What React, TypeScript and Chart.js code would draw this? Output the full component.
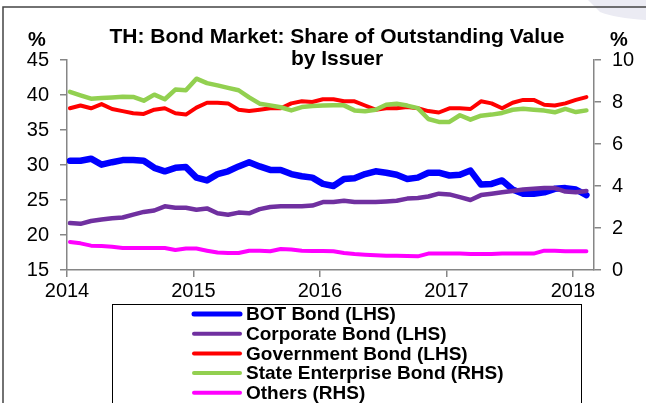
import React, { useEffect, useRef } from "react";
import { Chart, registerables } from "chart.js";

Chart.register(...registerables);

const months = [
  "2014-01", "2014-02", "2014-03", "2014-04", "2014-05", "2014-06", "2014-07", "2014-08", "2014-09", "2014-10", "2014-11", "2014-12",
  "2015-01", "2015-02", "2015-03", "2015-04", "2015-05", "2015-06", "2015-07", "2015-08", "2015-09", "2015-10", "2015-11", "2015-12",
  "2016-01", "2016-02", "2016-03", "2016-04", "2016-05", "2016-06", "2016-07", "2016-08", "2016-09", "2016-10", "2016-11", "2016-12",
  "2017-01", "2017-02", "2017-03", "2017-04", "2017-05", "2017-06", "2017-07", "2017-08", "2017-09", "2017-10", "2017-11", "2017-12",
  "2018-01", "2018-02",
];

const botBond = [
  30.6, 30.6, 30.9, 30.05, 30.4, 30.7, 30.7, 30.6, 29.6, 29.1,
  29.6, 29.7, 28.2, 27.8, 28.7, 29.1, 29.8, 30.4, 29.8, 29.3,
  29.3, 28.7, 28.4, 28.2, 27.3, 27.0, 28.0, 28.1, 28.7, 29.1,
  28.9, 28.6, 28.0, 28.2, 28.9, 28.9, 28.5, 28.6, 29.2, 27.2,
  27.3, 27.8, 26.5, 25.9, 25.9, 26.1, 26.6, 26.7, 26.5, 25.7,
];

const corporateBond = [
  21.7, 21.6, 22.0, 22.2, 22.4, 22.5, 22.9, 23.3, 23.5, 24.1,
  23.9, 23.9, 23.6, 23.8, 23.1, 22.9, 23.2, 23.1, 23.7, 24.0,
  24.1, 24.1, 24.1, 24.2, 24.7, 24.7, 24.9, 24.7, 24.7, 24.7,
  24.8, 24.9, 25.2, 25.3, 25.5, 25.9, 25.8, 25.4, 25.0, 25.7,
  25.9, 26.1, 26.3, 26.5, 26.6, 26.7, 26.7, 26.2, 26.1, 26.3,
];

const governmentBond = [
  38.1, 38.5, 38.1, 38.7, 38.0, 37.7, 37.4, 37.3, 37.9, 38.1,
  37.4, 37.2, 38.2, 38.9, 38.9, 38.8, 37.9, 37.7, 37.9, 38.1,
  38.1, 38.8, 39.1, 39.0, 39.4, 39.4, 39.1, 39.1, 38.5, 37.9,
  38.1, 38.1, 38.3, 38.1, 37.7, 37.5, 38.1, 38.1, 38.0, 39.1,
  38.8, 38.1, 38.9, 39.3, 39.3, 38.6, 38.5, 38.8, 39.3, 39.7,
];

const stateEnterpriseBond = [
  8.48, 8.32, 8.16, 8.19, 8.22, 8.25, 8.24, 8.06, 8.35, 8.13,
  8.59, 8.56, 9.11, 8.90, 8.79, 8.67, 8.56, 8.22, 7.92, 7.84,
  7.75, 7.60, 7.76, 7.81, 7.83, 7.84, 7.84, 7.60, 7.56, 7.63,
  7.87, 7.92, 7.83, 7.71, 7.19, 7.05, 7.05, 7.37, 7.16, 7.35,
  7.40, 7.48, 7.63, 7.68, 7.63, 7.59, 7.51, 7.67, 7.52, 7.60,
];

const others = [
  1.33, 1.27, 1.16, 1.14, 1.11, 1.05, 1.05, 1.05, 1.05, 1.05,
  0.95, 1.02, 1.02, 0.92, 0.83, 0.81, 0.81, 0.92, 0.92, 0.89,
  1.0, 0.98, 0.92, 0.90, 0.90, 0.89, 0.81, 0.76, 0.73, 0.70,
  0.68, 0.68, 0.67, 0.65, 0.78, 0.78, 0.78, 0.78, 0.76, 0.76,
  0.76, 0.78, 0.78, 0.78, 0.78, 0.92, 0.92, 0.89, 0.89, 0.89,
];

const yearTicks = [2014, 2015, 2016, 2017, 2018];
const leftTicks = [15, 20, 25, 30, 35, 40, 45];
const rightTicks = [0, 2, 4, 6, 8, 10];

const titleLines = ["TH: Bond Market: Share of Outstanding Value", "by Issuer"];

const FONT = '"Liberation Sans", Arial, Helvetica, sans-serif';
const AXIS_GRAY = "#868686";

function monthToX(m: string): number {
  const [y, mo] = m.split("-").map(Number);
  return y + (mo - 1 + 0.28) / 12;
}

function toPoints(values: number[]) {
  return values.map((v, i) => ({ x: monthToX(months[i]), y: v }));
}

const chromePlugin = {
  id: "chrome",
  beforeDraw(chart: any) {
    const ctx = chart.ctx;
    ctx.save();
    ctx.fillStyle = "#ffffff";
    ctx.fillRect(0, 0, chart.width, chart.height);
    // faint decorative shape in the top-right corner
    ctx.fillStyle = "#ebebf3";
    ctx.beginPath();
    ctx.moveTo(588, 0);
    ctx.lineTo(646, 0);
    ctx.lineTo(646, 20);
    ctx.quadraticCurveTo(615, 18, 600, 12);
    ctx.closePath();
    ctx.fill();
    ctx.restore();
  },
  afterDraw(chart: any) {
    const ctx = chart.ctx;
    ctx.save();
    // frame
    ctx.strokeStyle = "#444444";
    ctx.lineWidth = 1.5;
    ctx.beginPath();
    ctx.moveTo(3, chart.height);
    ctx.lineTo(3, 7);
    ctx.lineTo(chart.width, 7);
    ctx.stroke();

    // title
    ctx.fillStyle = "#000000";
    ctx.font = `bold 21px ${FONT}`;
    ctx.textAlign = "center";
    ctx.textBaseline = "middle";
    ctx.fillText(titleLines[0], 337, 37);
    ctx.fillText(titleLines[1], 337, 59);

    // axis unit labels
    ctx.font = `bold 20px ${FONT}`;
    ctx.fillText("%", 37, 40);
    ctx.fillText("%", 619, 40);

    // legend
    const boxL = 112, boxR = 581, boxT = 304;
    ctx.strokeStyle = "#000000";
    ctx.lineWidth = 1;
    ctx.strokeRect(boxL + 0.5, boxT + 0.5, boxR - boxL, 200);
    const rowY0 = 314;
    const rowStep = 19.7;
    chart.data.datasets.forEach((ds: any, i: number) => {
      const y = rowY0 + i * rowStep;
      ctx.strokeStyle = ds.borderColor;
      ctx.lineWidth = i === 0 ? 5 : 4;
      ctx.lineCap = "round";
      ctx.beginPath();
      ctx.moveTo(194, y);
      ctx.lineTo(240, y);
      ctx.stroke();
      ctx.fillStyle = "#000000";
      ctx.font = `bold 19px ${FONT}`;
      ctx.textAlign = "left";
      ctx.textBaseline = "middle";
      ctx.fillText(ds.label, 246, y + 1);
    });
    ctx.restore();
  },
};

export default function App() {
  const canvasRef = useRef<HTMLCanvasElement | null>(null);

  useEffect(() => {
    document.body.style.margin = "0";
    const canvas = canvasRef.current;
    if (!canvas) return;

    const tickFont = { family: FONT, size: 20 };
    const gridCfg = {
      drawOnChartArea: false,
      drawTicks: true,
      tickLength: 7,
      color: AXIS_GRAY,
      lineWidth: 1.5,
    };
    const borderCfg = { display: true, color: AXIS_GRAY, width: 1.5 };

    const chart = new Chart(canvas, {
      type: "line",
      data: {
        datasets: [
          {
            label: "BOT Bond (LHS)",
            data: toPoints(botBond),
            borderColor: "#0000ff",
            borderWidth: 6.5,
            yAxisID: "y",
            order: 5,
          },
          {
            label: "Corporate Bond (LHS)",
            data: toPoints(corporateBond),
            borderColor: "#7030a0",
            borderWidth: 4.5,
            yAxisID: "y",
            order: 4,
          },
          {
            label: "Government Bond (LHS)",
            data: toPoints(governmentBond),
            borderColor: "#ff0000",
            borderWidth: 4,
            yAxisID: "y",
            order: 3,
          },
          {
            label: "State Enterprise Bond (RHS)",
            data: toPoints(stateEnterpriseBond),
            borderColor: "#92d050",
            borderWidth: 4.5,
            yAxisID: "y1",
            order: 2,
          },
          {
            label: "Others (RHS)",
            data: toPoints(others),
            borderColor: "#ff00ff",
            borderWidth: 4,
            yAxisID: "y1",
            order: 1,
          },
        ] as any,
      },
      options: {
        animation: false,
        responsive: false,
        maintainAspectRatio: false,
        elements: {
          point: { radius: 0, hoverRadius: 0 },
          line: { tension: 0, borderCapStyle: "round", borderJoinStyle: "round", fill: false },
        },
        layout: { padding: { top: 60, left: 0, right: 0, bottom: 0 } },
        plugins: {
          legend: { display: false },
          title: { display: false },
          tooltip: { enabled: false },
        },
        scales: {
          x: {
            type: "linear",
            min: 2014,
            max: 2018 + 2 / 12,
            afterBuildTicks: (s: any) => {
              s.ticks = yearTicks.map((v) => ({ value: v }));
            },
            afterFit: (s: any) => {
              s.height = 133;
            },
            ticks: {
              font: tickFont,
              color: "#000000",
              padding: 2,
              maxRotation: 0,
              autoSkip: false,
              callback: (v: any) => String(v),
            },
            grid: gridCfg,
            border: borderCfg,
          },
          y: {
            type: "linear",
            position: "left",
            min: 15,
            max: 45,
            afterBuildTicks: (s: any) => {
              s.ticks = leftTicks.map((v) => ({ value: v }));
            },
            afterFit: (s: any) => {
              s.width = 67;
            },
            ticks: { font: tickFont, color: "#000000", padding: 11, callback: (v: any) => String(v) },
            grid: gridCfg,
            border: borderCfg,
          },
          y1: {
            type: "linear",
            position: "right",
            min: 0,
            max: 10,
            afterBuildTicks: (s: any) => {
              s.ticks = rightTicks.map((v) => ({ value: v }));
            },
            afterFit: (s: any) => {
              s.width = 52;
            },
            ticks: { font: tickFont, color: "#000000", padding: 11, callback: (v: any) => String(v) },
            grid: gridCfg,
            border: borderCfg,
          },
        },
      } as any,
      plugins: [chromePlugin],
    });

    return () => {
      chart.destroy();
    };
  }, []);

  return (
    <div style={{ position: "absolute", left: 0, top: 0, width: 646, height: 403 }}>
      <canvas ref={canvasRef} width={646} height={403} style={{ display: "block" }} />
    </div>
  );
}
